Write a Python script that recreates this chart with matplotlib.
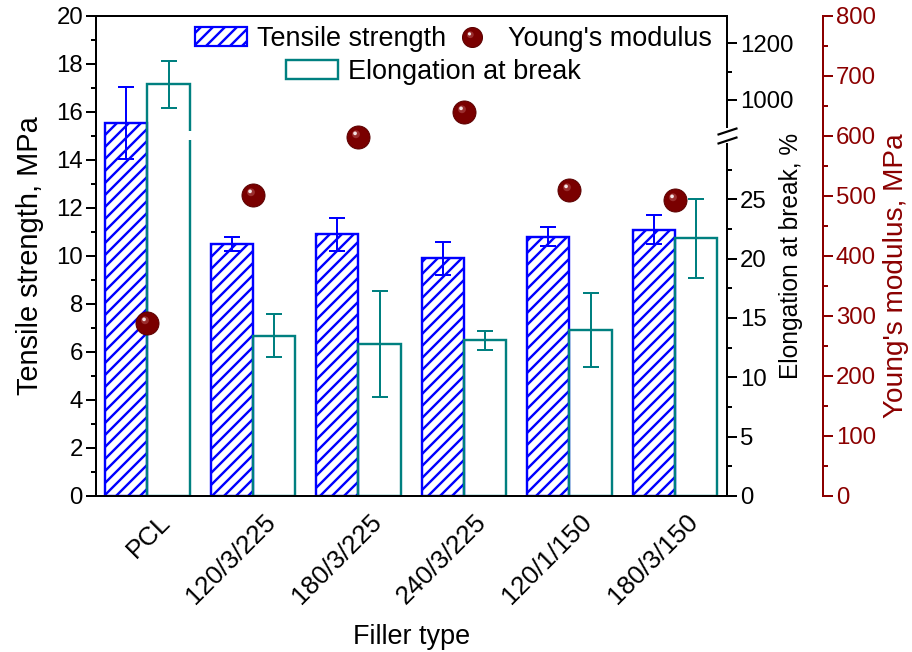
import numpy as np
import matplotlib
matplotlib.use('Agg')
import matplotlib.pyplot as plt
from matplotlib.path import Path
from matplotlib.lines import Line2D
from matplotlib.patches import Patch
from matplotlib.ticker import FixedLocator, MultipleLocator, NullFormatter

# data
fillers = ['PCL', '120/3/225', '180/3/225', '240/3/225', '120/1/150', '180/3/150']
tensile = [15.55, 10.5, 10.9, 9.9, 10.8, 11.1]
tensile_err = [1.5, 0.3, 0.7, 0.7, 0.4, 0.6]
elongation = [1055, 13.5, 12.8, 13.1, 14.0, 21.7]
elongation_err = [84, 1.8, 4.5, 0.8, 3.1, 3.3]
modulus = [288, 502, 599, 640, 510, 493]

TEAL = '#008080'
BALL = '#7a0000'
RED = '#8b0000'

plt.rcParams['font.family'] = ['Liberation Sans', 'DejaVu Sans']
plt.rcParams['hatch.linewidth'] = 2.4
plt.rcParams['hatch.color'] = 'blue'

# broken elongation axis, expressed in units of the tensile axis (0..20)
LO_TOP, HI_BOT = 30.0, 890.0
K_LO = 0.4946
Y1000, K_HI = 16.5, 0.011813
y_lo = LO_TOP * K_LO
y_hi = Y1000 + (HI_BOT - 1000) * K_HI
k_mid = (y_hi - y_lo) / (HI_BOT - LO_TOP)


def fwd(v):
    v = np.asarray(v, float)
    return np.where(v <= LO_TOP, v * K_LO,
                    np.where(v >= HI_BOT, Y1000 + (v - 1000) * K_HI,
                             y_lo + (v - LO_TOP) * k_mid))


def inv(y):
    y = np.asarray(y, float)
    return np.where(y <= y_lo, y / K_LO,
                    np.where(y >= y_hi, 1000 + (y - Y1000) / K_HI,
                             LO_TOP + (y - y_lo) / k_mid))


def spot(cx, cy, r):
    # off-centre circle used as a shading marker on the balls
    return Path.make_compound_path(Path.circle((cx, cy), r),
                                   Path([(1, 1), (-1, -1)], [Path.MOVETO, Path.MOVETO]))


glow = spot(-0.22, 0.28, 0.34)
shine = spot(-0.3, 0.36, 0.16)

fig = plt.figure(figsize=(912 / 72, 652 / 72), dpi=72)
ax = fig.add_axes([96 / 912, 1 - 496 / 652, 631 / 912, 480 / 652])
ax2 = ax.twinx()
ax3 = ax.twinx()

x = np.arange(len(fillers))
w = 0.4
err_kw = dict(elinewidth=2, capthick=2)

ax.bar(x - w / 2, tensile, w, facecolor='white', edgecolor='blue', hatch='//',
       linewidth=2.4, yerr=tensile_err, capsize=8,
       error_kw=dict(ecolor='blue', **err_kw))
ax.set_ylim(0, 20)
ax.set_xlim(-0.488, 5.493)
ax.yaxis.set_major_locator(MultipleLocator(2))
ax.yaxis.set_minor_locator(MultipleLocator(1))

ax2.set_yscale('function', functions=(fwd, inv))
ax2.bar(x + w / 2, elongation, w, facecolor='none', edgecolor=TEAL,
        linewidth=2.4, yerr=elongation_err, capsize=8,
        error_kw=dict(ecolor=TEAL, **err_kw))
ax2.set_ylim(0, float(inv(20)))
ax2.yaxis.set_major_locator(FixedLocator([0, 5, 10, 15, 20, 25, 1000, 1200]))
ax2.yaxis.set_minor_locator(FixedLocator([2.5, 7.5, 12.5, 17.5, 22.5, 27.5, 1100, 1300]))
ax2.yaxis.set_minor_formatter(NullFormatter())

# gap in bars that cross the break
for xi, v in zip(x, elongation):
    if v > LO_TOP:
        ax2.bar(xi + w / 2 + 0.05, HI_BOT - LO_TOP, w, bottom=LO_TOP,
                color='white', linewidth=0, zorder=3)

# break on the elongation spine
ax2.plot([1, 1], [LO_TOP, HI_BOT], transform=ax2.get_yaxis_transform(),
         color='white', lw=6, clip_on=False, zorder=10)
ax2.plot([1, 1], [LO_TOP, HI_BOT], transform=ax2.get_yaxis_transform(),
         ls='none', marker=[(-1, -0.33), (1, 0.33)], ms=20, mew=2.2,
         color='black', mfc='none', clip_on=False, zorder=11)

# Young's modulus
ax3.spines['right'].set_position(('axes', 1.152))
for s in ['left', 'top', 'bottom']:
    ax3.spines[s].set_visible(False)
ax3.spines['right'].set_color(RED)
ax3.spines['right'].set_linewidth(2)
ax3.plot(x, modulus, ls='none', marker='o', ms=23, mfc=BALL, mec='#5a0000', mew=1)
ax3.plot(x, modulus, ls='none', marker=glow, ms=23, mfc='#a33a3a', mec='none', alpha=0.8)
ax3.plot(x, modulus, ls='none', marker=shine, ms=23, mfc='#f4e4e4', mec='none')
ax3.set_ylim(0, 800)
ax3.yaxis.set_major_locator(MultipleLocator(100))
ax3.yaxis.set_minor_locator(MultipleLocator(50))

ax.spines['right'].set_visible(False)
for s in ax.spines.values():
    s.set_linewidth(2)
for s in ax2.spines.values():
    s.set_linewidth(2)

for a, c in [(ax, 'black'), (ax2, 'black'), (ax3, RED)]:
    a.tick_params(axis='y', which='major', direction='out', length=10, width=2,
                  labelsize=24, color=c, labelcolor=c, pad=3)
    a.tick_params(axis='y', which='minor', direction='out', length=5, width=2, color=c)

ax.set_xticks(x + 0.18)
ax.set_xticklabels(fillers, rotation=45, ha='right', va='center', rotation_mode='anchor')
ax.tick_params(axis='x', length=0, labelsize=26, pad=22)

ax.set_ylabel('Tensile strength, MPa', fontsize=29, va='center')
ax.yaxis.set_label_coords(-0.1046, 0.5)
ax2.set_ylabel('Elongation at break, %', fontsize=24.5, va='center')
ax2.yaxis.set_label_coords(1.101, 0.5)
ax3.set_ylabel("Young's modulus, MPa", fontsize=28, va='center', color=RED)
ax3.yaxis.set_label_coords(1.268, 0.46)
ax.set_xlabel('Filler type', fontsize=27, va='center')
ax.xaxis.set_label_coords(0.5, -0.294)

# legend
h_ts = Patch(facecolor='white', edgecolor='blue', hatch='//', linewidth=2.2)
h_ym = (Line2D([], [], ls='none', marker='o', ms=20, mfc=BALL, mec='#5a0000', mew=1),
        Line2D([], [], ls='none', marker=glow, ms=20, mfc='#a33a3a', mec='none', alpha=0.8),
        Line2D([], [], ls='none', marker=shine, ms=20, mfc='#f4e4e4', mec='none'))
h_el = Patch(facecolor='white', edgecolor=TEAL, linewidth=2.4)
leg_kw = dict(frameon=False, borderpad=0, borderaxespad=0, fontsize=27,
              handlelength=52 / 27, handleheight=19 / 27, handletextpad=0.37,
              columnspacing=0)
fig.legend([h_ts, h_ym], ['Tensile strength', "Young's modulus"], ncol=2,
           loc='center left', bbox_to_anchor=(195 / 912, 1 - 39 / 652), **leg_kw)
fig.legend([h_el], ['Elongation at break'],
           loc='center left', bbox_to_anchor=(286 / 912, 1 - 72 / 652), **leg_kw)

fig.savefig('out.png', dpi=72, facecolor='white')
